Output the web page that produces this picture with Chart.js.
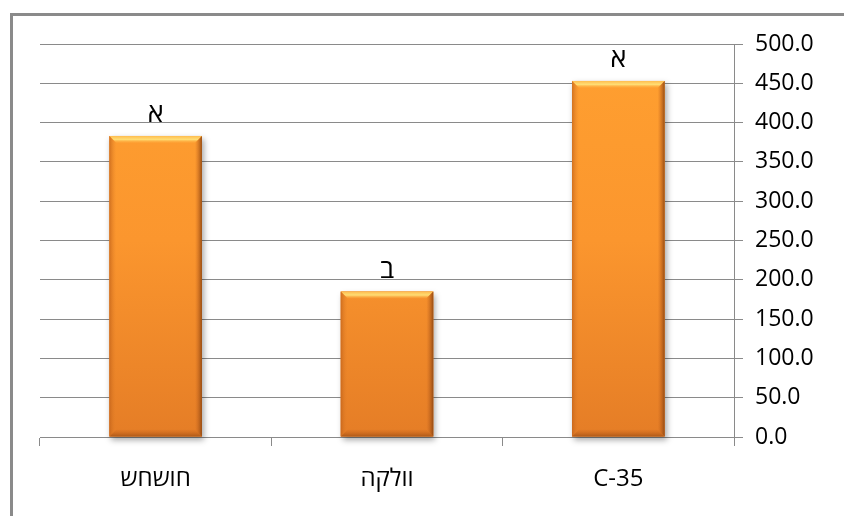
<!DOCTYPE html>
<html>
<head>
<meta charset="utf-8">
<script src="https://cdn.jsdelivr.net/npm/chart.js@4.4.0/dist/chart.umd.min.js"></script>
<style>
  html, body { margin: 0; padding: 0; background: #fff; overflow: hidden; }
  #wrap { position: relative; width: 844px; height: 516px; }
  #frame { position: absolute; left: 10px; top: 13px; width: 900px; height: 600px; border: 3px solid #8a8a8a; box-sizing: border-box; }
  canvas { position: absolute; left: 0; top: 0; }
</style>
</head>
<body>
<div id="wrap">
  <div id="frame"></div>
  <canvas id="c" width="844" height="516"></canvas>
</div>
<script>
const categories = ['חושחש', 'וולקה', 'C-35'];
const values = [383, 185, 453];
const groupLetters = ['א', 'ב', 'א'];
const yTicks = [0, 50, 100, 150, 200, 250, 300, 350, 400, 450, 500];

const FONT = "'Open Sans', 'DejaVu Sans', sans-serif";

const bevelPlugin = {
  id: 'bevel',
  beforeDatasetsDraw(chart) {
    const ctx = chart.ctx;
    const meta = chart.getDatasetMeta(0);
    ctx.save();
    meta.data.forEach(bar => {
      const l = bar.x - bar.width / 2, r = bar.x + bar.width / 2;
      const t = bar.y, b = bar.base;
      ctx.shadowColor = 'rgba(0,0,0,0.35)';
      ctx.shadowBlur = 6;
      ctx.shadowOffsetX = 2;
      ctx.shadowOffsetY = 3;
      ctx.fillStyle = '#d9782a';
      ctx.fillRect(l, t, r - l, b - t);
    });
    ctx.restore();
  },
  afterDatasetsDraw(chart) {
    const ctx = chart.ctx;
    const meta = chart.getDatasetMeta(0);
    ctx.save();
    meta.data.forEach((bar, i) => {
      const l = bar.x - bar.width / 2, r = bar.x + bar.width / 2;
      const t = bar.y, b = bar.base;
      const e = 7;
      let g = ctx.createLinearGradient(0, t, 0, t + e);
      g.addColorStop(0, 'rgba(255,190,80,0.95)');
      g.addColorStop(0.5, 'rgba(255,225,120,0.95)');
      g.addColorStop(1, 'rgba(255,170,60,0.2)');
      ctx.fillStyle = g;
      ctx.beginPath();
      ctx.moveTo(l, t); ctx.lineTo(r, t); ctx.lineTo(r - e, t + e); ctx.lineTo(l + e, t + e); ctx.closePath();
      ctx.fill();
      g = ctx.createLinearGradient(r - e, 0, r, 0);
      g.addColorStop(0, 'rgba(200,100,30,0.0)');
      g.addColorStop(1, 'rgba(140,70,18,0.9)');
      ctx.fillStyle = g;
      ctx.beginPath();
      ctx.moveTo(r, t); ctx.lineTo(r, b); ctx.lineTo(r - e, b - e); ctx.lineTo(r - e, t + e); ctx.closePath();
      ctx.fill();
      g = ctx.createLinearGradient(l, 0, l + e, 0);
      g.addColorStop(0, 'rgba(190,95,25,0.7)');
      g.addColorStop(1, 'rgba(230,130,40,0.0)');
      ctx.fillStyle = g;
      ctx.beginPath();
      ctx.moveTo(l, t); ctx.lineTo(l + e, t + e); ctx.lineTo(l + e, b - e); ctx.lineTo(l, b); ctx.closePath();
      ctx.fill();
      g = ctx.createLinearGradient(0, b - e, 0, b);
      g.addColorStop(0, 'rgba(200,100,30,0.1)');
      g.addColorStop(1, 'rgba(160,80,20,0.8)');
      ctx.fillStyle = g;
      ctx.beginPath();
      ctx.moveTo(l, b); ctx.lineTo(l + e, b - e); ctx.lineTo(r - e, b - e); ctx.lineTo(r, b); ctx.closePath();
      ctx.fill();
      ctx.fillStyle = '#000';
      ctx.font = '27px ' + FONT;
      ctx.textAlign = 'center';
      ctx.textBaseline = 'bottom';
      ctx.fillText(groupLetters[i], bar.x, t - 8);
    });
    ctx.restore();
  }
};

new Chart(document.getElementById('c'), {
  type: 'bar',
  data: {
    labels: categories,
    datasets: [{
      data: values,
      backgroundColor: (c) => {
        const area = c.chart.chartArea;
        if (!area) return '#f39130';
        const g = c.chart.ctx.createLinearGradient(0, area.top, 0, area.bottom);
        g.addColorStop(0, '#ffa030');
        g.addColorStop(0.5, '#fb962e');
        g.addColorStop(1, '#e57d26');
        return g;
      },
      borderWidth: 0,
      barPercentage: 0.4,
      categoryPercentage: 1.0
    }]
  },
  options: {
    responsive: false,
    animation: false,
    events: [],
    layout: { padding: { left: 40, top: 44, right: 0, bottom: 0 } },
    plugins: { legend: { display: false }, tooltip: { enabled: false } },
    scales: {
      x: {
        offset: true,
        grid: { offset: true, drawOnChartArea: false, drawTicks: true, tickLength: 9, color: '#8a8a8a' },
        border: { display: true, color: '#8a8a8a', width: 1 },
        ticks: { color: '#000', font: { family: FONT, size: 24 }, padding: 19 },
        afterFit: (s) => { s.height = 79; }
      },
      y: {
        position: 'right',
        min: 0, max: 500,
        afterBuildTicks: (s) => { s.ticks = yTicks.map(v => ({ value: v })); },
        grid: { color: '#8a8a8a', lineWidth: 1, tickLength: 9 },
        border: { display: true, color: '#8a8a8a', width: 1 },
        ticks: { color: '#000', font: { family: FONT, size: 23 }, padding: 12, callback: (v) => Number(v).toFixed(1) },
        afterFit: (s) => { s.width = 110; }
      }
    }
  },
  plugins: [bevelPlugin]
});
</script>
</body>
</html>
